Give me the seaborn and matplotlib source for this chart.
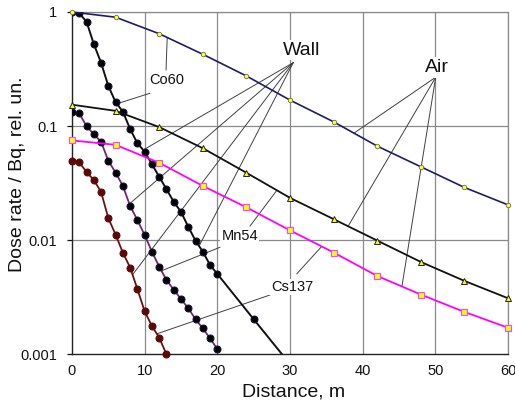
import numpy as np
import pandas as pd
import matplotlib
matplotlib.use("Agg")
import matplotlib.pyplot as plt
import seaborn as sns

# ---- data ----
# air curves: one point every 6 m
air_x = [0, 6, 12, 18, 24, 30, 36, 42, 48, 54, 60]
co60_air = [1.0, 0.90, 0.645, 0.426, 0.275, 0.169, 0.109, 0.0668, 0.044, 0.029, 0.0204]
mn54_air = [0.154, 0.136, 0.098, 0.064, 0.039, 0.0235, 0.0153, 0.00993, 0.00645, 0.0044, 0.0031]
cs137_air = [0.0749, 0.0685, 0.0477, 0.0299, 0.0194, 0.0122, 0.0078, 0.00486, 0.00334, 0.00235, 0.00171]

# wall curves: one point every metre
co60_wall_x = list(range(0, 21)) + [25, 30]
co60_wall = [1.0, 0.974, 0.822, 0.524, 0.359, 0.225, 0.162, 0.134, 0.0943, 0.0707, 0.0597,
             0.0463, 0.036, 0.028, 0.0217, 0.0177, 0.0131, 0.0099, 0.00793, 0.00606, 0.00506,
             0.00203, 0.00082]
mn54_wall_x = list(range(0, 21))
mn54_wall = [0.133, 0.129, 0.100, 0.0848, 0.073, 0.0497, 0.0391, 0.0299, 0.01995, 0.0150, 0.0111,
             0.00793, 0.00586, 0.00448, 0.00368, 0.00305, 0.00253, 0.00203, 0.00169, 0.00138, 0.00111]
cs137_wall_x = list(range(0, 14))
cs137_wall = [0.0497, 0.048, 0.0396, 0.0337, 0.0265, 0.0156, 0.0112, 0.00777, 0.00576, 0.00373,
              0.00238, 0.00177, 0.0014, 0.001]

x_ticks = [0, 10, 20, 30, 40, 50, 60]
y_ticks = [0.001, 0.01, 0.1, 1]
y_tick_labels = ["0.001", "0.01", "0.1", "1"]

sns.set_theme(style="white")
plt.rcParams["font.family"] = ["Liberation Sans", "DejaVu Sans"]

fig = plt.figure(figsize=(5.15, 4.05), dpi=100)
ax = fig.add_axes([0.1398, 0.1252, 0.8466, 0.8452])
ax.set_yscale("log")

# grid first so the curves sit on top
for xv in x_ticks[1:]:
    ax.axvline(xv, color="#8a8a8a", lw=0.9, zorder=0)
for yv in y_ticks[1:]:
    ax.axhline(yv, color="#8a8a8a", lw=0.9, zorder=0)

# wall curves
sns.lineplot(x=co60_wall_x, y=co60_wall, ax=ax, color="#111111", lw=1.4, marker="o",
             markersize=5, markerfacecolor="black", markeredgecolor="#101030", zorder=3)
sns.lineplot(x=mn54_wall_x, y=mn54_wall, ax=ax, color="#7a1f7a", lw=1.3, marker="o",
             markersize=5, markerfacecolor="black", markeredgecolor="#101030", zorder=3)
sns.lineplot(x=cs137_wall_x, y=cs137_wall, ax=ax, color="#6e1010", lw=1.3, marker="o",
             markersize=5, markerfacecolor="#5a0808", markeredgecolor="#5a0808", zorder=3,
             clip_on=False)

# air curves
sns.lineplot(x=air_x, y=co60_air, ax=ax, color="#1c1c6e", lw=1.2, marker="o",
             markersize=3.2, markerfacecolor="#ffff40", markeredgecolor="#707040",
             markeredgewidth=0.6, zorder=3, clip_on=False)
sns.lineplot(x=air_x, y=mn54_air, ax=ax, color="#111111", lw=1.3, marker="^",
             markersize=5, markerfacecolor="#ffff00", markeredgecolor="#222222",
             markeredgewidth=0.7, zorder=3, clip_on=False)
sns.lineplot(x=air_x, y=cs137_air, ax=ax, color="#ff00ff", lw=1.3, marker="s",
             markersize=5, markerfacecolor="#ffff00", markeredgecolor="#ff40ff",
             markeredgewidth=0.8, zorder=3, clip_on=False)

ax.set_xlim(0, 60)
ax.set_ylim(0.001, 1)
ax.set_xticks(x_ticks)
ax.set_xticklabels([str(v) for v in x_ticks])
ax.set_yticks(y_ticks)
ax.set_yticklabels(y_tick_labels)
ax.minorticks_off()
ax.tick_params(axis="x", length=0, pad=7, labelsize=10.5, colors="#111111")
ax.tick_params(axis="y", length=3.6, width=0.9, direction="out", pad=7,
               labelsize=10.5, colors="#111111", left=True)

for side in ["left", "bottom"]:
    ax.spines[side].set_color("#222222")
    ax.spines[side].set_linewidth(1.0)
for side in ["top", "right"]:
    ax.spines[side].set_color("#8a8a8a")
    ax.spines[side].set_linewidth(0.9)

ax.set_xlabel("Distance, m", fontsize=14, color="#111111")
ax.set_ylabel("Dose rate / Bq, rel. un.", fontsize=14, color="#111111")
ax.xaxis.set_label_coords(0.509, -0.086)
ax.yaxis.set_label_coords(-0.105, 0.525)

# labels with leader lines
lead = dict(arrowstyle="-", color="#404040", lw=0.7, shrinkA=0, shrinkB=0)
box = dict(boxstyle="square,pad=0.1", fc="white", ec="none")


def leader(src, dst):
    ax.annotate("", xy=dst, xytext=src, arrowprops=lead, zorder=2)


ax.text(31.6, 0.464, "Wall", fontsize=14, ha="center", va="center", color="#111111", bbox=box)
for dst in [(9.8, 0.0617), (7.98, 0.021), (8.35, 0.0050), (17.5, 0.0089)]:
    leader((30.45, 0.36), dst)

ax.text(50.2, 0.326, "Air", fontsize=14, ha="center", va="center", color="#111111", bbox=box)
for dst in [(38.8, 0.0867), (38.0, 0.01325), (45.4, 0.00393)]:
    leader((50.05, 0.268), dst)

ax.text(13.07, 0.255, "Co60", fontsize=10.5, ha="center", va="center", color="#111111", bbox=box)
leader((12.94, 0.310), (13.1, 0.59))
leader((10.73, 0.194), (6.2, 0.157))

ax.text(23.07, 0.01088, "Mn54", fontsize=10.5, ha="center", va="center", color="#111111", bbox=box)
leader((20.37, 0.00867), (12.34, 0.0054))
leader((24.5, 0.0133), (28.2, 0.0274))

ax.text(30.27, 0.00389, "Cs137", fontsize=10.5, ha="center", va="center", color="#111111", bbox=box)
leader((27.25, 0.00331), (11.66, 0.00151))
leader((30.92, 0.00506), (34.36, 0.00881))

fig.savefig("out.png", dpi=100, facecolor="white")
